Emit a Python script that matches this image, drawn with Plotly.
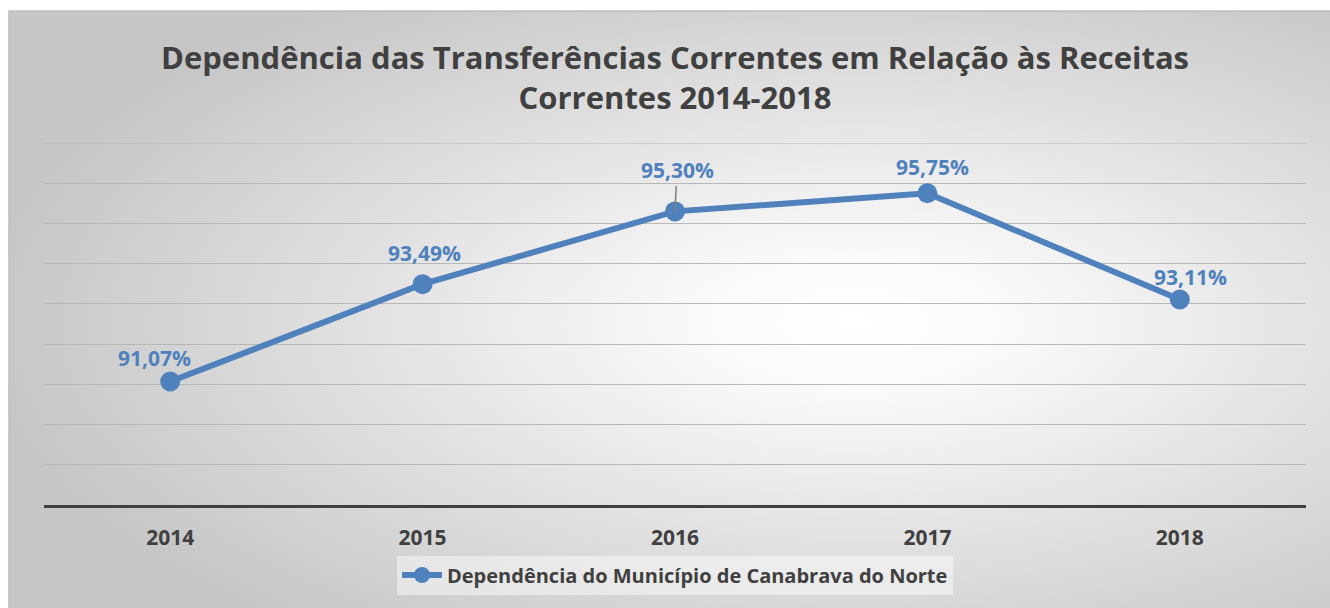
import base64
import plotly.graph_objects as go

# ---- data ----
years = ["2014", "2015", "2016", "2017", "2018"]
values = [91.07, 93.49, 95.30, 95.75, 93.11]
labels = ["91,07%", "93,49%", "95,30%", "95,75%", "93,11%"]
series_name = "Dependência do Município de Canabrava do Norte"
title_text = "Dependência das Transferências Correntes em Relação às Receitas<br>Correntes 2014-2018"
y_min, y_max = 88, 97

# label offsets (px) relative to points
label_dx = [-16, 2, 2, 5, 11]
label_dy = [24, 31, 41, 26, 22]
leader = [False, False, True, False, False]

W, H = 1330, 608
ML, MR, MT, MB = 44, 24, 143, 103
pw, ph = W - ML - MR, H - MT - MB

FONT = "Open Sans"
BLUE = "#4F81BD"
DARK = "#404040"
GRID = "#b8b8b8"

svg = (
    '<svg xmlns="http://www.w3.org/2000/svg" width="1000" height="1000" viewBox="0 0 1000 1000" preserveAspectRatio="none">'
    '<defs><radialGradient id="g" cx="0.64" cy="0.52" r="0.66" gradientUnits="objectBoundingBox">'
    '<stop offset="0" stop-color="#ffffff"/><stop offset="0.15" stop-color="#fbfbfb"/><stop offset="1" stop-color="#c6c6c6"/>'
    '</radialGradient></defs><rect x="0" y="0" width="1000" height="1000" fill="url(#g)"/></svg>'
)
src = "data:image/svg+xml;base64," + base64.b64encode(svg.encode()).decode()

# chart rect in paper coords
x0 = (9 - ML) / pw
x1 = (W - ML) / pw
ytop = (MT + ph - 11) / ph
ybot = (MT + ph - H) / ph

fig = go.Figure()
fig.add_trace(go.Scatter(
    x=years, y=values, mode="lines+markers", name="<b>%s</b>" % series_name,
    line=dict(color=BLUE, width=6),
    marker=dict(color=BLUE, size=20),
    hoverinfo="skip",
))

for i, (yv, t) in enumerate(zip(values, labels)):
    if leader[i]:
        fig.add_annotation(x=i, y=yv, text="<b>%s</b>" % t, showarrow=True,
                           ax=label_dx[i], ay=-label_dy[i], arrowhead=0, arrowwidth=1.5,
                           arrowcolor="#7f7f7f", standoff=0, startstandoff=0,
                           font=dict(family=FONT, size=21, color=BLUE))
    else:
        fig.add_annotation(x=i, y=yv, text="<b>%s</b>" % t, showarrow=False,
                           xshift=label_dx[i], yshift=label_dy[i],
                           font=dict(family=FONT, size=21, color=BLUE))

fig.add_layout_image(dict(source=src, xref="paper", yref="paper", x=x0, y=ytop,
                          sizex=x1 - x0, sizey=ytop - ybot, sizing="stretch",
                          xanchor="left", yanchor="top", layer="below"))
fig.add_shape(type="rect", xref="paper", yref="paper", x0=x0, x1=x1 + 0.01, y0=ybot - 0.01, y1=ytop,
              line=dict(color="#bfbfbf", width=1.5), fillcolor="rgba(0,0,0,0)", layer="below")
# top gridline (at the range edge)
fig.add_shape(type="line", xref="paper", yref="y", x0=0, x1=1, y0=y_max, y1=y_max,
              line=dict(color=GRID, width=1.2), layer="below")

fig.update_layout(
    width=W, height=H,
    margin=dict(l=ML, r=MR, t=MT, b=MB),
    paper_bgcolor="white", plot_bgcolor="rgba(0,0,0,0)",
    title=dict(text="<b>%s</b>" % title_text, x=0.5, xref="paper", xanchor="center",
               y=1 - 69 / H, yanchor="middle",
               font=dict(family=FONT, size=31, color=DARK)),
    showlegend=True,
    legend=dict(orientation="h", x=0.5, xanchor="center", y=-(575 - MT - ph) / ph,
                yanchor="middle", bgcolor="rgba(255,255,255,0.45)",
                font=dict(family=FONT, size=20, color=DARK), itemwidth=40),
    xaxis=dict(type="category", range=[-0.5, 4.5], showgrid=False, zeroline=False,
               showline=True, linecolor=DARK, linewidth=3, ticks="",
               tickfont=dict(family=FONT, size=21, color=DARK), ticklabelstandoff=12,
               tickprefix="<b>", ticksuffix="</b>", fixedrange=True),
    yaxis=dict(range=[y_min, y_max], dtick=1, tick0=y_min, showgrid=True, gridcolor=GRID, gridwidth=1.2,
               showticklabels=False, zeroline=False, showline=False, ticks="", fixedrange=True),
)

fig.write_html("out.html", config={"displayModeBar": False},
               post_script="document.body.style.margin='0';")
